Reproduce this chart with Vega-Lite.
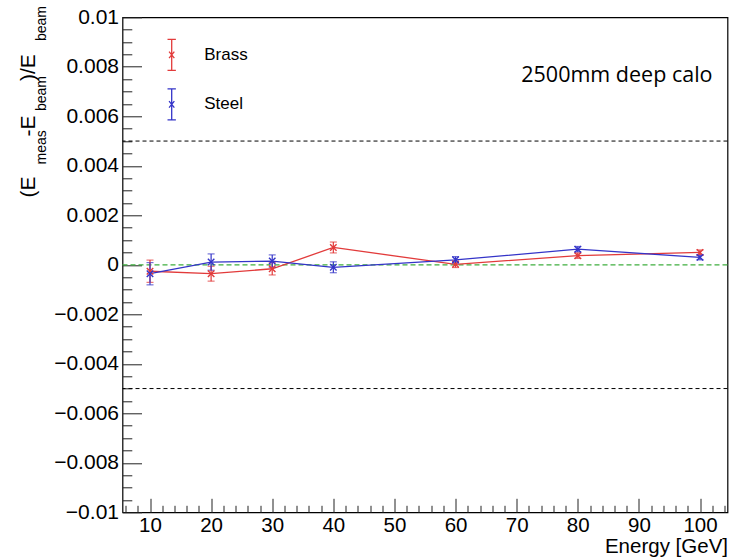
{
  "$schema": "https://vega.github.io/schema/vega-lite/v6.json",
  "width": 605,
  "height": 495,
  "autosize": {"type": "none"},
  "padding": {"left": 122.5, "top": 17.3, "right": 1.5, "bottom": 46.7},
  "background": "white",
  "title": {"text": "2500mm deep calo", "anchor": "end", "frame": "group", "orient": "top", "font": "Open Sans", "fontSize": 21.5, "fontWeight": "normal", "color": "#000", "baseline": "alphabetic", "offset": 0, "dx": -15, "dy": 98},
  "datasets": {
    "meas": [
      {"material": "Brass", "energy": 10, "value": -0.00026, "err": 0.00045},
      {"material": "Brass", "energy": 20, "value": -0.00036, "err": 0.0003},
      {"material": "Brass", "energy": 30, "value": -0.00016, "err": 0.00025},
      {"material": "Brass", "energy": 40, "value": 0.0007, "err": 0.00022},
      {"material": "Brass", "energy": 60, "value": 0.00002, "err": 0.00013},
      {"material": "Brass", "energy": 80, "value": 0.00037, "err": 0.00011},
      {"material": "Brass", "energy": 100, "value": 0.0005, "err": 0.0001},
      {"material": "Steel", "energy": 10, "value": -0.00036, "err": 0.00045},
      {"material": "Steel", "energy": 20, "value": 0.00011, "err": 0.00033},
      {"material": "Steel", "energy": 30, "value": 0.00015, "err": 0.00025},
      {"material": "Steel", "energy": 40, "value": -0.0001, "err": 0.00022},
      {"material": "Steel", "energy": 60, "value": 0.0002, "err": 0.00013},
      {"material": "Steel", "energy": 80, "value": 0.00063, "err": 0.00011},
      {"material": "Steel", "energy": 100, "value": 0.0003, "err": 0.0001}
    ],
    "limits": [{"ref": 0.005}, {"ref": -0.005}],
    "zero": [{"ref": 0}]
  },
  "layer": [
    {
      "data": {"name": "limits"},
      "mark": {"type": "rule", "strokeDash": [4, 3], "color": "#000", "strokeWidth": 1},
      "encoding": {
        "y": {"field": "ref", "type": "quantitative", "scale": {"domain": [-0.01, 0.01], "nice": false, "zero": false},
          "axis": {"orient": "left", "values": [-0.01, -0.008, -0.006, -0.004, -0.002, 0, 0.002, 0.004, 0.006, 0.008, 0.01], "format": "~g", "labelFontSize": 21, "labelPadding": 4, "ticks": false, "labelFlush": false, "labelOverlap": false,
            "title": "(E", "titleFontSize": 21, "titleAngle": -90, "titleAlign": "left", "titleBaseline": "alphabetic", "titleX": -88.5, "titleY": 179.7}}
      }
    },
    {
      "data": {"name": "zero"},
      "mark": {"type": "rule", "strokeDash": [5, 3], "color": "#3fae3f", "strokeWidth": 1.2},
      "encoding": {
        "y": {"field": "ref", "type": "quantitative", "scale": {"domain": [-0.01, 0.01], "nice": false, "zero": false},
          "axis": {"orient": "left", "values": [-0.01, -0.008, -0.006, -0.004, -0.002, 0, 0.002, 0.004, 0.006, 0.008, 0.01], "labels": false, "ticks": true, "tickSize": -19, "tickWidth": 1,
            "title": "meas", "titleFontSize": 14, "titleAngle": -90, "titleAlign": "left", "titleBaseline": "alphabetic", "titleX": -77, "titleY": 146.7}}
      }
    },
    {
      "data": {"name": "meas"},
      "mark": {"type": "line", "strokeWidth": 1.3},
      "encoding": {
        "x": {"field": "energy", "type": "quantitative", "scale": {"domain": [5.5, 104.5], "nice": false, "zero": false},
          "axis": {"orient": "bottom", "values": [10, 20, 30, 40, 50, 60, 70, 80, 90, 100], "labelFontSize": 20.5, "labelPadding": 3, "ticks": false, "labelFlush": false, "labelOverlap": false,
            "title": "Energy [GeV]", "titleFontSize": 20.5, "titleAlign": "right", "titleBaseline": "alphabetic", "titleX": 605, "titleY": 40.5}},
        "y": {"field": "value", "type": "quantitative", "scale": {"domain": [-0.01, 0.01], "nice": false, "zero": false},
          "axis": {"orient": "left", "values": [-0.0095, -0.009, -0.0085, -0.0075, -0.007, -0.0065, -0.0055, -0.005, -0.0045, -0.0035, -0.003, -0.0025, -0.0015, -0.001, -0.0005, 0.0005, 0.001, 0.0015, 0.0025, 0.003, 0.0035, 0.0045, 0.005, 0.0055, 0.0065, 0.007, 0.0075, 0.0085, 0.009, 0.0095], "labels": false, "ticks": true, "tickSize": -9.3, "tickWidth": 1,
            "title": "-E", "titleFontSize": 21, "titleAngle": -90, "titleAlign": "left", "titleBaseline": "alphabetic", "titleX": -88.5, "titleY": 118.7}},
        "color": {"field": "material", "type": "nominal", "scale": {"domain": ["Brass", "Steel"], "range": ["#e23b3b", "#3434c8"]},
          "legend": {"orient": "none", "legendX": 32.7, "legendY": 21, "title": null, "symbolType": "M0,-1L0,1M-0.27,-1L0.27,-1M-0.27,1L0.27,1M-0.17,-0.21L0.17,0.21M-0.17,0.21L0.17,-0.21", "symbolSize": 961, "symbolStrokeWidth": 1.3, "symbolFillColor": "transparent", "labelFont": "Liberation Sans", "labelFontSize": 17, "labelColor": "#000", "labelOffset": 16, "rowPadding": 12.5, "padding": 0}}
      }
    },
    {
      "data": {"name": "meas"},
      "mark": {"type": "errorbar", "ticks": {"size": 7, "thickness": 1.2}, "size": 7, "thickness": 1.2},
      "encoding": {
        "x": {"field": "energy", "type": "quantitative", "scale": {"domain": [5.5, 104.5], "nice": false, "zero": false}, "axis": null},
        "y": {"field": "value", "type": "quantitative", "scale": {"domain": [-0.01, 0.01], "nice": false, "zero": false}, "axis": null},
        "yError": {"field": "err"},
        "color": {"field": "material", "type": "nominal", "legend": null}
      }
    },
    {
      "data": {"name": "meas"},
      "mark": {"type": "point", "shape": "M-1,-1L1,1M-1,1L1,-1", "size": 42, "strokeWidth": 1.4, "filled": false, "opacity": 1},
      "encoding": {
        "x": {"field": "energy", "type": "quantitative", "scale": {"domain": [5.5, 104.5], "nice": false, "zero": false},
          "axis": {"orient": "bottom", "values": [10, 20, 30, 40, 50, 60, 70, 80, 90, 100], "labels": false, "ticks": true, "tickSize": -14, "tickWidth": 1, "title": null}},
        "y": {"field": "value", "type": "quantitative", "scale": {"domain": [-0.01, 0.01], "nice": false, "zero": false},
          "axis": {"orient": "left", "labels": false, "ticks": false, "title": "beam", "titleFontSize": 14, "titleAngle": -90, "titleAlign": "left", "titleBaseline": "alphabetic", "titleX": -77, "titleY": 93.2}},
        "color": {"field": "material", "type": "nominal", "legend": null}
      }
    },
    {
      "data": {"name": "meas"},
      "mark": {"type": "point", "opacity": 0},
      "encoding": {
        "x": {"field": "energy", "type": "quantitative", "scale": {"domain": [5.5, 104.5], "nice": false, "zero": false},
          "axis": {"orient": "bottom", "values": [6, 8, 12, 14, 16, 18, 22, 24, 26, 28, 32, 34, 36, 38, 42, 44, 46, 48, 52, 54, 56, 58, 62, 64, 66, 68, 72, 74, 76, 78, 82, 84, 86, 88, 92, 94, 96, 98, 102, 104], "labels": false, "ticks": true, "tickSize": -7, "tickWidth": 1, "title": null}},
        "y": {"field": "value", "type": "quantitative", "scale": {"domain": [-0.01, 0.01], "nice": false, "zero": false},
          "axis": {"orient": "left", "labels": false, "ticks": false, "title": ")/E", "titleFontSize": 21, "titleAngle": -90, "titleAlign": "left", "titleBaseline": "alphabetic", "titleX": -88.5, "titleY": 63.2}}
      }
    },
    {
      "data": {"name": "meas"},
      "mark": {"type": "point", "opacity": 0},
      "encoding": {
        "x": {"field": "energy", "type": "quantitative", "scale": {"domain": [5.5, 104.5], "nice": false, "zero": false}, "axis": null},
        "y": {"field": "value", "type": "quantitative", "scale": {"domain": [-0.01, 0.01], "nice": false, "zero": false},
          "axis": {"orient": "left", "labels": false, "ticks": false, "title": "beam", "titleFontSize": 14, "titleAngle": -90, "titleAlign": "left", "titleBaseline": "alphabetic", "titleX": -77, "titleY": 23.2}}
      }
    }
  ],
  "resolve": {"axis": {"x": "independent", "y": "independent"}},
  "config": {
    "view": {"stroke": "#000", "strokeWidth": 1.2},
    "axis": {"domain": false, "grid": false, "labelFont": "Liberation Sans", "titleFont": "Liberation Sans", "titleFontWeight": "normal", "titleColor": "#000", "labelColor": "#000", "tickColor": "#222"}
  }
}
